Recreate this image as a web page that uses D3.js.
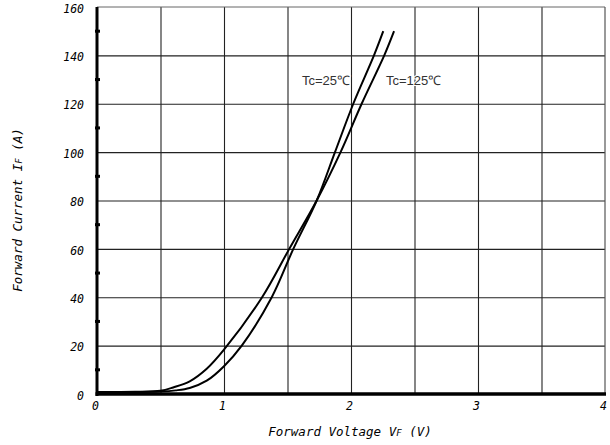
<!DOCTYPE html>
<html>
<head>
<meta charset="utf-8">
<script src="https://cdn.jsdelivr.net/npm/d3@7"></script>
<style>
  body { margin: 0; background: #fff; }
  svg { display: block; }
  .tick-label { font-family: "DejaVu Sans Mono", monospace; font-style: italic; font-size: 11.5px; fill: #000; }
  .title { font-family: "DejaVu Sans Mono", monospace; font-style: italic; font-size: 12.5px; fill: #000; }
  .curve-label { font-family: "Liberation Sans", Arial, sans-serif; font-size: 13px; fill: #333; }
</style>
</head>
<body>
<div id="chart"></div>
<script>
// Forward characteristics
const vfTicks = [0, 1, 2, 3, 4];
const ifTicks = [0, 20, 40, 60, 80, 100, 120, 140, 160];
const vfGrid = [0.5, 1, 1.5, 2, 2.5, 3, 3.5];
const ifGrid = [20, 40, 60, 80, 100, 120, 140];
const ifMinor = [10, 30, 50, 70, 90, 110, 130, 150];

// Tc = 25 C
const vf25 = [0, 0.3, 0.5, 0.62, 0.73, 0.864, 1.0, 1.14, 1.376, 1.546, 1.73, 1.874, 2.018, 2.181, 2.254];
const if25 = [0.8, 0.8, 1.0, 1.5, 2.5, 5.5, 11.5, 20, 40, 60, 80, 100, 120, 140, 150];
// Tc = 125 C
const vf125 = [0, 0.3, 0.5, 0.6, 0.73, 0.864, 1.0, 1.30, 1.514, 1.73, 1.918, 2.084, 2.262, 2.339];
const if125 = [0.8, 0.9, 1.3, 2.7, 5.2, 10.4, 18.3, 40, 60, 80, 100, 120, 140, 150];

const width = 610, height = 445;
const svg = d3.select('#chart').append('svg')
  .attr('width', width)
  .attr('height', height);

const x = d3.scaleLinear().domain([0, 4]).range([97, 605]);
const y = d3.scaleLinear().domain([0, 160]).range([394, 7]);

// grid
svg.append('g')
  .attr('transform', `translate(0,${y(0)})`)
  .call(d3.axisBottom(x).tickValues(vfGrid).tickSize(-(y(0) - y(160))).tickFormat(''))
  .call(g => g.select('.domain').remove())
  .selectAll('line').attr('stroke', '#222').attr('stroke-width', 1.1);

svg.append('g')
  .attr('transform', `translate(${x(0)},0)`)
  .call(d3.axisLeft(y).tickValues(ifGrid).tickSize(-(x(4) - x(0))).tickFormat(''))
  .call(g => g.select('.domain').remove())
  .selectAll('line').attr('stroke', '#222').attr('stroke-width', 1.1);

// top and right frame
svg.append('line')
  .attr('x1', x(0)).attr('x2', x(4)).attr('y1', y(160)).attr('y2', y(160))
  .attr('stroke', '#666').attr('stroke-width', 1);
svg.append('line')
  .attr('x1', x(4)).attr('x2', x(4)).attr('y1', y(160)).attr('y2', y(0))
  .attr('stroke', '#555').attr('stroke-width', 1.2);

// curves
const line = d3.line().x(d => x(d[0])).y(d => y(d[1])).curve(d3.curveCatmullRom.alpha(0.5));
const series = [
  { v: vf25, i: if25 },
  { v: vf125, i: if125 }
];
series.forEach(s => {
  svg.append('path')
    .datum(s.v.map((v, k) => [v, s.i[k]]))
    .attr('d', line)
    .attr('fill', 'none')
    .attr('stroke', '#000')
    .attr('stroke-width', 2);
});

// thick axes
svg.append('line')
  .attr('x1', x(0)).attr('x2', x(0)).attr('y1', y(160)).attr('y2', y(0) + 2)
  .attr('stroke', '#000').attr('stroke-width', 3);
svg.append('line')
  .attr('x1', x(0) - 1.5).attr('x2', x(4) + 1).attr('y1', y(0)).attr('y2', y(0))
  .attr('stroke', '#000').attr('stroke-width', 3.5);

// minor ticks on the left axis
svg.selectAll('.minor')
  .data(ifMinor)
  .enter()
  .append('rect')
  .attr('x', x(0) - 2)
  .attr('y', d => y(d) - 1.5)
  .attr('width', 5)
  .attr('height', 3)
  .attr('fill', '#000');

// tick labels
svg.append('g')
  .attr('transform', `translate(0,${y(0)})`)
  .call(d3.axisBottom(x).tickValues(vfTicks).tickSize(0).tickPadding(0).tickFormat(d3.format('d')))
  .call(g => g.select('.domain').remove())
  .selectAll('text')
  .attr('class', 'tick-label')
  .attr('dx', -2)
  .attr('y', 16)
  .attr('dy', 0);

svg.append('g')
  .attr('transform', `translate(${x(0)},0)`)
  .call(d3.axisLeft(y).tickValues(ifTicks).tickSize(0).tickPadding(0).tickFormat(d3.format('d')))
  .call(g => g.select('.domain').remove())
  .selectAll('text')
  .attr('class', 'tick-label')
  .attr('x', -13)
  .attr('dy', '0.45em');

// curve labels
svg.append('text').attr('class', 'curve-label')
  .attr('x', 302).attr('y', 85).text('Tc=25℃')
  .attr('stroke', '#fff').attr('stroke-width', 2).attr('paint-order', 'stroke');
svg.append('text').attr('class', 'curve-label')
  .attr('x', 386).attr('y', 85).text('Tc=125℃')
  .attr('stroke', '#fff').attr('stroke-width', 2).attr('paint-order', 'stroke');

// axis titles
const xt = svg.append('text').attr('class', 'title')
  .attr('x', 350).attr('y', 436).attr('text-anchor', 'middle');
xt.append('tspan').text('Forward Voltage V');
xt.append('tspan').attr('font-size', '9px').text('F');
xt.append('tspan').text(' (V)');

const yt = svg.append('text').attr('class', 'title')
  .attr('transform', 'translate(22,210) rotate(-90)')
  .attr('text-anchor', 'middle');
yt.append('tspan').text('Forward Current I');
yt.append('tspan').attr('font-size', '9px').text('F');
yt.append('tspan').text(' (A)');
</script>
</body>
</html>
